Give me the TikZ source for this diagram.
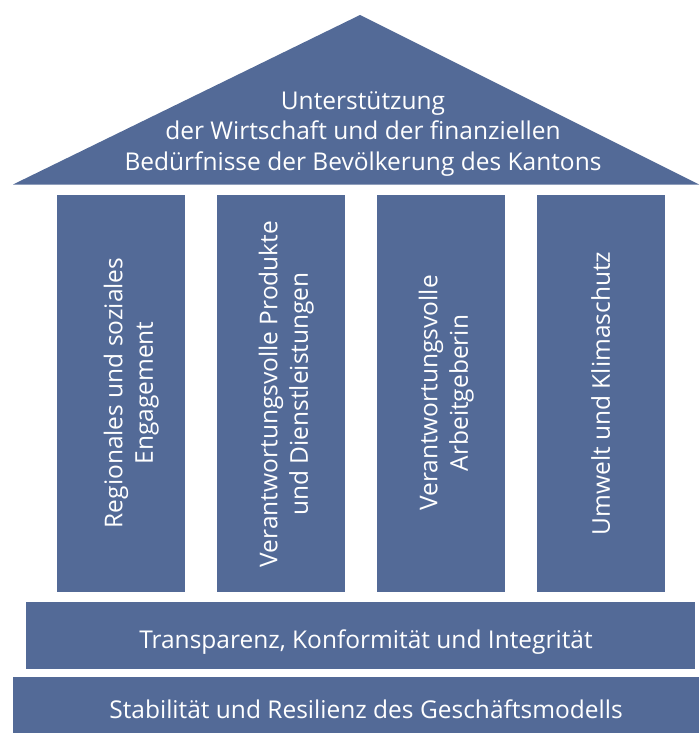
\documentclass[tikz,border=0pt]{standalone}
\usepackage{fontspec}
\setmainfont{Open Sans}
\usepackage{tikz}
\usetikzlibrary{positioning}
\definecolor{tempel}{HTML}{536A97}

\tikzset{
    block/.style={fill=tempel, inner sep=0pt},
    beschriftung/.style={text=white, inner sep=0pt, align=center, font=\fontsize{24.5}{30.5}\selectfont, text height=17.5pt, text depth=0pt},
    pillar/.style={block, minimum width=128pt, minimum height=397pt}
}

\begin{document}
\begin{tikzpicture}[x=1pt,y=-1pt]
    \useasboundingbox (0,0) rectangle (699,733);

    % Dach
    \fill[tempel] (13,184.5) -- (360,15) -- (699,184.5) -- cycle;
    \node[beschriftung] (dach) at (363,161.5) {Unterstützung\\der Wirtschaft und der finanziellen\\Bedürfnisse der Bevölkerung des Kantons};

    % Saeulen
    \node[pillar] (s1) at (121,393.5) {};
    \node[pillar] (s2) at (281,393.5) {};
    \node[pillar] (s3) at (441,393.5) {};
    \node[pillar] (s4) at (601,393.5) {};
    \node[beschriftung, rotate=90] (t1) at (144,393) {Regionales und soziales\\Engagement};
    \node[beschriftung, rotate=90] (t2) at (299,394) {Verantwortungsvolle Produkte\\und Dienstleistungen};
    \node[beschriftung, rotate=90] (t3) at (459,393) {Verantwortungsvolle\\Arbeitgeberin};
    \node[beschriftung, rotate=90] (t4) at (601,393.5) {Umwelt und Klimaschutz};

    % Fundament
    \node[block, minimum width=668.5pt, minimum height=67pt] (f1) at (360.25,635.5) {};
    \node[block, minimum width=686pt, minimum height=56pt] (f2) at (356,705) {};
    \node[beschriftung] (t5) at (366,639.5) {Transparenz, Konformität und Integrität};
    \node[beschriftung] (t6) at (366,710) {Stabilität und Resilienz des Geschäftsmodells};
\end{tikzpicture}
\end{document}
